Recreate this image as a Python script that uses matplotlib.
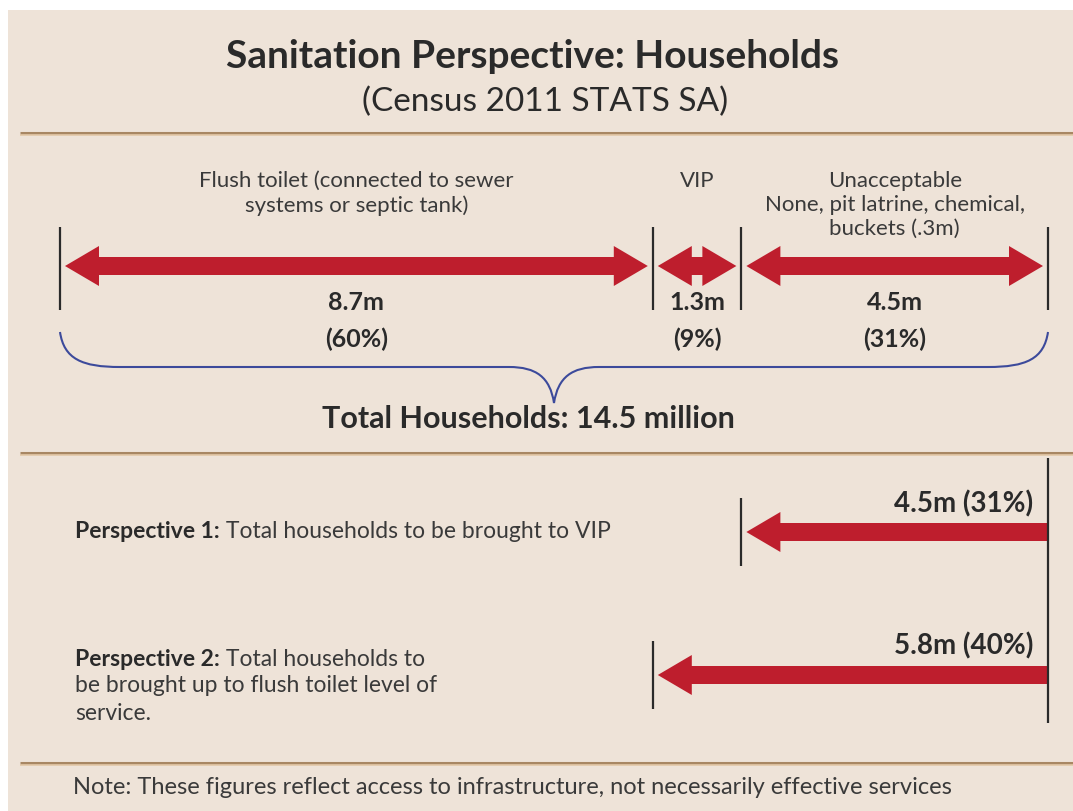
import matplotlib
matplotlib.use("Agg")
import matplotlib.pyplot as plt
from matplotlib.patches import Rectangle, PathPatch
from matplotlib.path import Path

# ---- data ----
segment_labels = ["Flush toilet (connected to sewer\nsystems or septic tank)",
                  "VIP",
                  "Unacceptable\nNone, pit latrine, chemical,\nbuckets (.3m)"]
segment_values = [8.7, 1.3, 4.5]     # million households
segment_shares = [60, 9, 31]         # percent
total_households = 14.5

persp_heads = ["Perspective 1:", "Perspective 2:"]
persp_lines = [[" Total households to be brought to VIP"],
               [" Total households to", "be brought up to flush toilet level of", "service."]]
persp_values = [4.5, 5.8]
persp_shares = [31, 40]

title = "Sanitation Perspective: Households"
subtitle = "(Census 2011 STATS SA)"
total_label = "Total Households: 14.5 million"
note = "Note: These figures reflect access to infrastructure, not necessarily effective services"

# ---- style ----
BEIGE = "#EEE3D8"
RED = "#BE1E2D"
BLUE = "#3C4A9B"
RULE = "#A88763"
DARK = "#2A2A2A"
TXT = "#3A3A3A"
plt.rcParams["font.family"] = ["Lato", "DejaVu Sans"]

W, H = 1073, 811
X0, X1 = 60, 1048

fig = plt.figure(figsize=(W / 100, H / 100), dpi=100, facecolor="white")
bg = fig.add_axes([0, 0, 1, 1])
bg.set_xlim(0, W)
bg.set_ylim(H, 0)
bg.axis("off")
bg.add_patch(Rectangle((8, 10), W, H, color=BEIGE, lw=0))

# data axes: x in million households, y in pixels
ax = fig.add_axes([X0 / W, 0, (X1 - X0) / W, 1])
ax.set_xlim(0, total_households)
ax.set_ylim(H, 0)
ax.axis("off")
ax.patch.set_visible(False)

inv = ax.transData.inverted()
def px(n):
    # pixel length -> data length along x
    return inv.transform((n, 0))[0] - inv.transform((0, 0))[0]

def arrow(a, b, y, left=True, right=True):
    # filled horizontal arrow between a and b (data units), heads optional
    hl, sw, hw = px(34), 9, 20
    pts = []
    if left:
        pts += [(a, y), (a + hl, y - hw), (a + hl, y - sw)]
    else:
        pts += [(a, y - sw)]
    if right:
        pts += [(b - hl, y - sw), (b - hl, y - hw), (b, y), (b - hl, y + hw), (b - hl, y + sw)]
    else:
        pts += [(b, y - sw), (b, y + sw)]
    if left:
        pts += [(a + hl, y + sw), (a + hl, y + hw)]
    else:
        pts += [(a, y + sw)]
    xs, ys = zip(*pts)
    ax.fill(xs, ys, color=RED, lw=0, clip_on=False)

# titles
bg.text(533, 57, title, ha="center", va="center", fontsize=28,
        fontweight="bold", color=DARK)
bg.text(545, 102, subtitle, ha="center", va="center", fontsize=24, color=DARK)

for yy in (133, 453, 763):
    bg.plot([20, W], [yy, yy], color=RULE, lw=2.2, solid_capstyle="butt")
    bg.plot([20, W], [yy + 2, yy + 2], color="#E3C9A8", lw=1.2, solid_capstyle="butt")

# ---- top: segments ----
bounds = [0]
for v in segment_values:
    bounds.append(bounds[-1] + v)
ax.vlines(bounds, 227, 310, color=DARK, lw=1.6, clip_on=False)

gap = px(5)
for i, (lab, v, s) in enumerate(zip(segment_labels, segment_values, segment_shares)):
    a, b = bounds[i], bounds[i + 1]
    mid = (a + b) / 2
    arrow(a + gap, b - gap, 266)
    ax.text(mid, 171, lab, ha="center", va="top", fontsize=16, color=TXT,
            linespacing=1.25, clip_on=False)
    ax.text(mid, 303, f"{v}m", ha="center", va="center", fontsize=18,
            fontweight="bold", color=DARK)
    ax.text(mid, 339, f"({s}%)", ha="center", va="center", fontsize=18,
            fontweight="bold", color=DARK)

# brace under the total
tip = total_households / 2
e0, e1 = 0, total_households
yb0, yb1, yb2 = 332, 367, 403
verts = [(e0, yb0), (e0 + px(4), yb1 - 8), (e0 + px(22), yb1), (e0 + px(60), yb1),
         (tip - px(45), yb1),
         (tip - px(18), yb1), (tip - px(4), yb1 + 10), (tip, yb2),
         (tip + px(4), yb1 + 10), (tip + px(18), yb1), (tip + px(45), yb1),
         (e1 - px(60), yb1),
         (e1 - px(22), yb1), (e1 - px(4), yb1 - 8), (e1, yb0)]
codes = [Path.MOVETO, Path.CURVE4, Path.CURVE4, Path.CURVE4,
         Path.LINETO,
         Path.CURVE4, Path.CURVE4, Path.CURVE4,
         Path.CURVE4, Path.CURVE4, Path.CURVE4,
         Path.LINETO,
         Path.CURVE4, Path.CURVE4, Path.CURVE4]
ax.add_patch(PathPatch(Path(verts, codes), fill=False, edgecolor=BLUE, lw=1.5,
                       clip_on=False))

bg.text(528, 419, total_label, ha="center", va="center", fontsize=22,
        fontweight="bold", color=DARK)

# ---- bottom: perspectives ----
ax.vlines(total_households, 458, 723, color=DARK, lw=1.6, clip_on=False)
arrow_y = [532, 675]
label_y = [504, 646]
text_y = [532, 659]
for i in range(len(persp_values)):
    start = total_households - persp_values[i]
    y = arrow_y[i]
    ax.vlines(start, y - 34, y + 34, color=DARK, lw=1.6, clip_on=False)
    arrow(start + gap, total_households, y, right=False)
    ax.text(total_households - px(15), label_y[i],
            f"{persp_values[i]}m ({persp_shares[i]}%)", ha="right", va="center",
            fontsize=20, fontweight="bold", color=DARK)
    head = bg.text(75, text_y[i], persp_heads[i], ha="left", va="center",
                   fontsize=16.5, fontweight="bold", color=DARK)
    lines = persp_lines[i]
    bg.annotate(lines[0], xy=(1, 0), xycoords=head, ha="left", va="bottom",
                fontsize=16.5, color=TXT)
    for j, ln in enumerate(lines[1:]):
        bg.text(75, text_y[i] + 27 * (j + 1), ln, ha="left", va="center",
                fontsize=16.5, color=TXT)

bg.text(73, 788, note, ha="left", va="center", fontsize=17, color=TXT)

fig.savefig("out.png", dpi=100, facecolor="white")
